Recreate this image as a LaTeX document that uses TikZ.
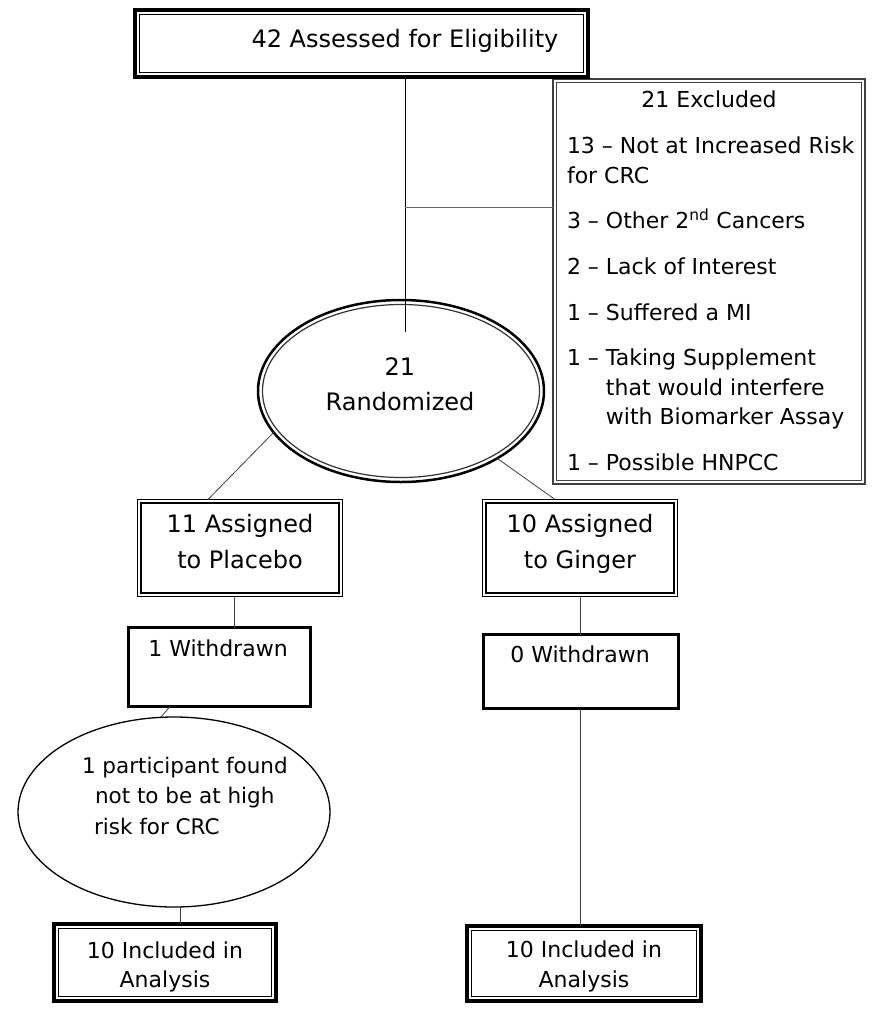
\documentclass[tikz,border=0pt]{standalone}
\usepackage{fontspec}
\setmainfont{DejaVu Sans}
\usetikzlibrary{shapes.geometric}
\begin{document}
\begin{tikzpicture}[x=1pt,y=-1pt,
  box/.style={draw, rectangle, inner sep=0pt, outer sep=0pt},
  thickbox/.style={box, line width=4pt},
  dblbox/.style={box, line width=1.2pt},
  wdbox/.style={box, line width=3pt},
  exbox/.style={box, line width=1.3pt, draw=black!75},
  inner/.style={line width=1pt},
  conn/.style={line width=0.8pt, draw=black!75},
  txt/.style={inner sep=0pt, outer sep=0pt, anchor=base},
  txtl/.style={inner sep=0pt, outer sep=0pt, anchor=base west},
  big/.style={font=\fontsize{24}{28}\selectfont},
  med/.style={font=\fontsize{22}{26}\selectfont},
  sml/.style={font=\fontsize{21.5}{26}\selectfont}]
\useasboundingbox (0,0) rectangle (874,1015);

% Excluded box
\node[exbox, minimum width=312pt, minimum height=405pt] (excl) at (709,281.5) {};
\draw[inner, draw=black!75] ([shift={(3.5pt,-3.5pt)}]excl.north west) rectangle ([shift={(-3.5pt,3.5pt)}]excl.south east);

% Top box
\node[thickbox, minimum width=453pt, minimum height=67pt, fill=white] (top) at (361.5,43.5) {};
\draw[inner] ([shift={(4.5pt,-4.5pt)}]top.north west) rectangle ([shift={(-4.5pt,4.5pt)}]top.south east);
\node[txt, big] (toptxt) at (405,47) {42 Assessed for Eligibility};

% Randomized ellipse
\node[ellipse, draw, line width=2.5pt, inner sep=0pt, outer sep=0pt, minimum width=286pt, minimum height=182pt] (rand) at (401,391) {};
\draw[line width=1.2pt, draw=black!80] (rand.center) ellipse [x radius=138.5pt, y radius=86.5pt];
\node[txt, big] (randa) at (400,375) {21};
\node[txt, big] (randb) at (400,410) {Randomized};

% connectors top
\coordinate (vt) at (405,332);
\coordinate (br) at (405,207);
\draw[conn, draw=black] (top.south -| vt) -- (vt);
\draw[conn, draw=black!60] (br) -- (br -| excl.west);

% Excluded text
\node[txt, med] (ex0) at (709,107) {21 Excluded};
\node[txtl, med] (ex1) at (567,153) {13 – Not at Increased Risk};
\node[txtl, med] (ex2) at (567,183) {for CRC};
\node[txtl, med] (ex3) at (567,228) {3 – Other 2\textsuperscript{nd} Cancers};
\node[txtl, med] (ex4) at (567,274) {2 – Lack of Interest};
\node[txtl, med] (ex5) at (567,320) {1 – Suffered a MI};
\node[txtl, med] (ex6) at (567,365) {1 – Taking Supplement};
\node[txtl, med] (ex7) at (567,395) {\phantom{1 – }that would interfere};
\node[txtl, med] (ex8) at (567,424) {\phantom{1 – }with Biomarker Assay};
\node[txtl, med] (ex9) at (567,470) {1 – Possible HNPCC};

% Assigned boxes
\node[dblbox, minimum width=205pt, minimum height=97pt] (plac) at (240,548) {};
\draw[line width=1.6pt] ([shift={(3.5pt,-3.5pt)}]plac.north west) rectangle ([shift={(-3.5pt,3.5pt)}]plac.south east);
\node[txt, big] (placa) at (240,532) {11 Assigned};
\node[txt, big] (placb) at (240,568) {to Placebo};

\node[dblbox, minimum width=195pt, minimum height=97pt] (ging) at (580,548) {};
\draw[line width=1.6pt] ([shift={(3.5pt,-3.5pt)}]ging.north west) rectangle ([shift={(-3.5pt,3.5pt)}]ging.south east);
\node[txt, big] (ginga) at (580,532) {10 Assigned};
\node[txt, big] (gingb) at (580,568) {to Ginger};

\draw[conn] (rand.198) -- ([xshift=-32pt]plac.north);
\draw[conn] (rand.325) -- ([xshift=-25pt]ging.north);

% Withdrawn boxes
\node[wdbox, minimum width=182pt, minimum height=79pt] (wd1) at (219.5,667) {};
\node[txt, med] (wd1t) at (218,656) {1 Withdrawn};
\node[wdbox, minimum width=195pt, minimum height=74pt] (wd0) at (581,671.5) {};
\node[txt, med] (wd0t) at (580,662) {0 Withdrawn};

\draw[conn] ([xshift=-6pt]plac.south) -- ([xshift=-6pt]plac.south |- wd1.north);
\draw[conn] (ging.south) -- (ging.south |- wd0.north);

% participant ellipse
\node[ellipse, draw, line width=1.3pt, inner sep=0pt, outer sep=0pt, minimum width=312pt, minimum height=190pt] (part) at (174,812) {};
\node[txtl, sml] (parta) at (82,773) {1 participant found};
\node[txtl, sml] (partb) at (95,803) {not to be at high};
\node[txtl, sml] (partc) at (94,834) {risk for CRC};

\draw[conn] ([xshift=-49.5pt]wd1.south) -- (part.98);

% Included boxes
\node[thickbox, minimum width=222pt, minimum height=77pt] (inc1) at (165,962.5) {};
\draw[inner] ([shift={(4.5pt,-4.5pt)}]inc1.north west) rectangle ([shift={(-4.5pt,4.5pt)}]inc1.south east);
\node[txt, med] (inc1a) at (165,958) {10 Included in};
\node[txt, med] (inc1b) at (165,987) {Analysis};

\node[thickbox, minimum width=234pt, minimum height=75pt] (inc2) at (584,963.5) {};
\draw[inner] ([shift={(4.5pt,-4.5pt)}]inc2.north west) rectangle ([shift={(-4.5pt,4.5pt)}]inc2.south east);
\node[txt, med] (inc2a) at (584,957) {10 Included in};
\node[txt, med] (inc2b) at (584,987) {Analysis};

\draw[conn] ([xshift=6pt]part.south) -- ([xshift=6pt]part.south |- inc1.north);
\draw[conn] ([xshift=-1pt]wd0.south) -- ([xshift=-1pt]wd0.south |- inc2.north);
\end{tikzpicture}
\end{document}
